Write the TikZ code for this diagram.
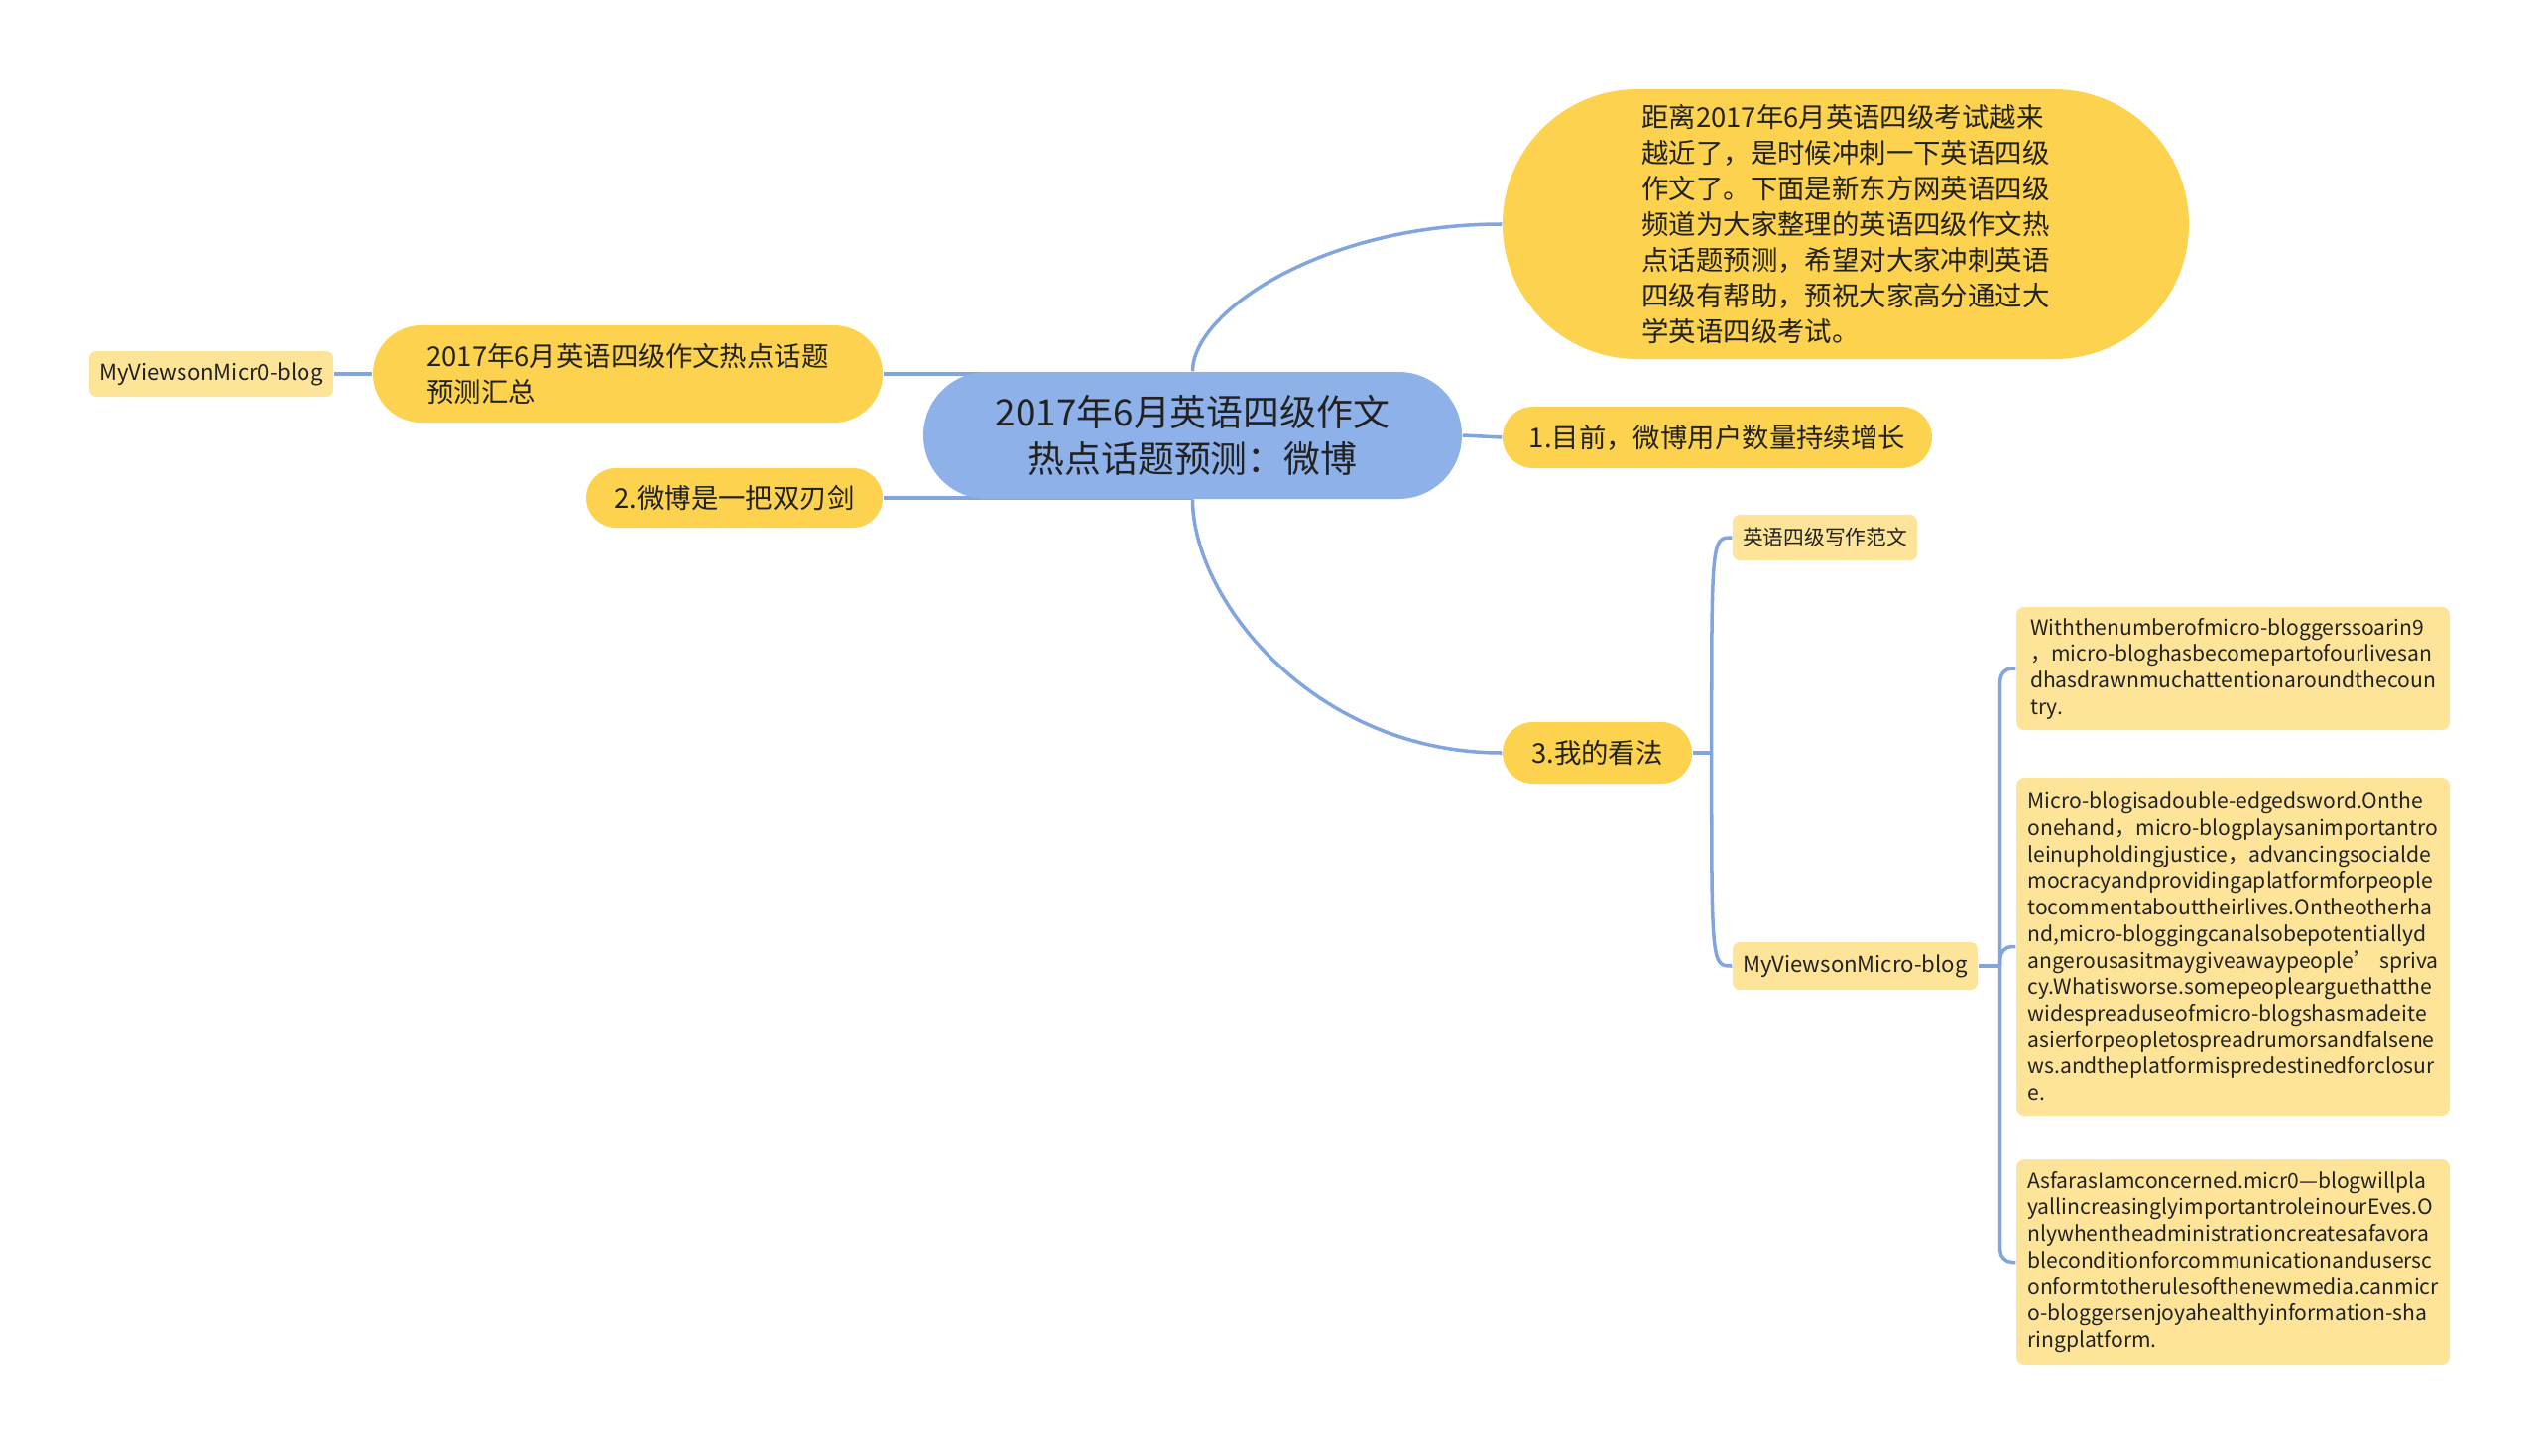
\documentclass[tikz,border=0pt]{standalone}
\usepackage{fontspec}
\setmainfont{Noto Sans CJK SC}
\usetikzlibrary{backgrounds}
\definecolor{mapblue}{HTML}{8EB1EA}
\definecolor{mapgold}{HTML}{FCD24F}
\definecolor{mapgoldLight}{HTML}{FEE499}
\definecolor{linkblue}{HTML}{82A5E0}
\definecolor{inkgray}{HTML}{222222}

\begin{document}
\begin{tikzpicture}[
    x=0.1mm, y=-0.1mm,
    rootbox/.style={
      rectangle, rounded corners=6.4mm,
      minimum width=54.3mm, minimum height=12.8mm,
      fill=mapblue, text=inkgray,
      font=\fontsize{10.5}{13.4}\selectfont,
      align=center, inner sep=0pt,
    },
    pill/.style={
      rectangle, rounded corners=3.1mm,
      minimum height=6.2mm,
      fill=mapgold, text=inkgray,
      font=\fontsize{7.8}{10.25}\selectfont,
      align=center, inner sep=0pt,
    },
    tag/.style={
      rectangle, rounded corners=0.7mm,
      minimum height=4.6mm,
      fill=mapgoldLight, text=inkgray,
      font=\fontsize{5.9}{7.6}\selectfont,
      align=center, inner sep=0pt,
    },
    leaf/.style={
      rectangle, rounded corners=0.8mm,
      minimum width=43.7mm,
      fill=mapgoldLight, text=inkgray,
      font=\fontsize{6}{7.6}\selectfont,
      align=left, inner xsep=1.1mm, inner ysep=1.1mm,
    },
    conn/.style={draw=linkblue, line width=1pt},
  ]

  \useasboundingbox (0,0) rectangle (2560,1468);

  % ---- Central topic ----
  \node[rootbox] (topic) at (1202.5, 439) {2017年6月英语四级作文\\热点话题预测：微博};

  % ---- Right branches ----
  \node[pill, minimum width=69.2mm, minimum height=27.2mm, rounded corners=13.6mm, align=left] (intro) at (1861, 226)
    {距离2017年6月英语四级考试越来\\
     越近了，是时候冲刺一下英语四级\\
     作文了。下面是新东方网英语四级\\
     频道为大家整理的英语四级作文热\\
     点话题预测，希望对大家冲刺英语\\
     四级有帮助，预祝大家高分通过大\\
     学英语四级考试。};
  \node[pill, minimum width=43.3mm] (now)  at (1731.5, 441) {1.目前，微博用户数量持续增长};
  \node[pill, minimum width=19.1mm] (view) at (1610.5, 759) {3.我的看法};

  % ---- Left branches ----
  \node[pill, minimum width=51.4mm, minimum height=9.8mm, rounded corners=4.9mm, align=left] (summary) at (633, 377)
    {2017年6月英语四级作文热点话题\\预测汇总};
  \node[pill, minimum width=29.9mm, minimum height=6mm, rounded corners=3mm] (sword) at (740.5, 502) {2.微博是一把双刃剑};
  \node[tag, minimum width=24.6mm, font=\fontsize{6.3}{7.6}\selectfont] (blogL) at (213, 377) {MyViewsonMicr0-blog};

  % ---- Under 3. ----
  \node[tag, minimum width=18.6mm] (sample) at (1840, 542) {英语四级写作范文};
  \node[tag, minimum width=24.7mm, minimum height=4.8mm, font=\fontsize{6.3}{7.6}\selectfont] (blogR) at (1870.5, 974) {MyViewsonMicro-blog};

  % ---- Essay paragraphs ----
  \node[leaf, minimum height=12.4mm] (para1) at (2251.5, 674)
    {Withthenumberofmicro-bloggerssoarin9\\
     ，micro-bloghasbecomepartofourlivesan\\
     dhasdrawnmuchattentionaroundthecoun\\
     try.};
  \node[leaf, minimum height=34.1mm] (para2) at (2251.5, 954.5)
    {Micro-blogisadouble-edgedsword.Onthe\\
     onehand，micro-blogplaysanimportantro\\
     leinupholdingjustice，advancingsocialde\\
     mocracyandprovidingaplatformforpeople\\
     tocommentabouttheirlives.Ontheotherha\\
     nd,micro-bloggingcanalsobepotentiallyd\\
     angerousasitmaygiveawaypeople’ spriva\\
     cy.Whatisworse.somepeoplearguethatthe\\
     widespreaduseofmicro-blogshasmadeite\\
     asierforpeopletospreadrumorsandfalsene\\
     ws.andtheplatformispredestinedforclosur\\
     e.};
  \node[leaf, minimum height=20.7mm] (para3) at (2251.5, 1272.5)
    {AsfarasIamconcerned.micr0—blogwillpla\\
     yallincreasinglyimportantroleinourEves.O\\
     nlywhentheadministrationcreatesafavora\\
     bleconditionforcommunicationandusersc\\
     onformtotherulesofthenewmedia.canmicr\\
     o-bloggersenjoyahealthyinformation-sha\\
     ringplatform.};

  % ---- Connectors ----
  \begin{scope}[on background layer]
    \draw[conn] (topic.north) .. controls +(0,-60) and +(-180,0) .. (intro.west);
    \draw[conn] (topic.east) -- (now.west);
    \draw[conn] (topic.south) .. controls +(0,100) and +(-190,0) .. (view.west);
    \draw[conn] (summary.east) -- (summary.east -| topic.center);
    \draw[conn] (sword.east) -- (sword.east -| topic.center);
    \draw[conn] (blogL.east) -- (summary.west);

    \coordinate (viewJ) at ([xshift=1.9mm]view.east);
    \draw[conn] (view.east) -- (viewJ);
    \draw[conn] (viewJ) .. controls (viewJ |- sample.west) .. (sample.west);
    \draw[conn] (viewJ) .. controls (viewJ |- blogR.west) .. (blogR.west);

    \coordinate (blogJ) at ([xshift=2.2mm]blogR.east);
    \draw[conn] (blogR.east) -- (blogJ);
    \draw[conn, rounded corners=1.2mm] (blogJ) |- (para1.west);
    \draw[conn, rounded corners=1.2mm] (blogJ) |- (para2.west);
    \draw[conn, rounded corners=1.2mm] (blogJ) |- (para3.west);
  \end{scope}

\end{tikzpicture}
\end{document}
